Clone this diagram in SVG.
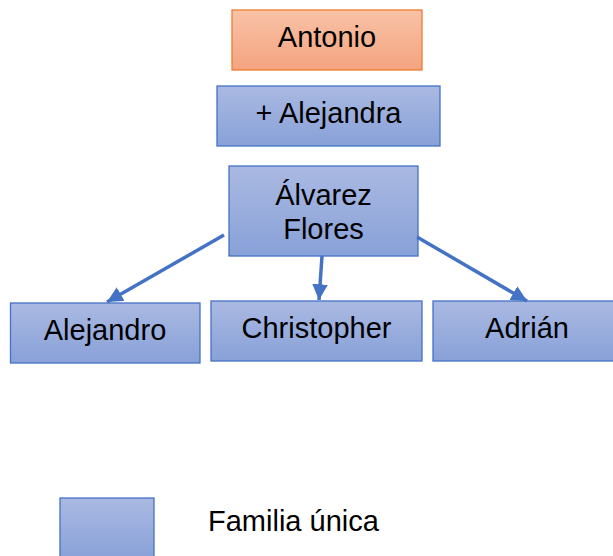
<svg xmlns="http://www.w3.org/2000/svg" width="613" height="556" viewBox="0 0 613 556">
  <defs>
    <linearGradient id="blueFill" x1="0" y1="0" x2="0" y2="1">
      <stop offset="0" stop-color="#aab9e2"/>
      <stop offset="1" stop-color="#88a1d8"/>
    </linearGradient>
    <linearGradient id="orangeFill" x1="0" y1="0" x2="0" y2="1">
      <stop offset="0" stop-color="#f8c2a6"/>
      <stop offset="1" stop-color="#f4a47f"/>
    </linearGradient>
    <marker id="arrow" viewBox="0 0 10 10" refX="10" refY="5" markerWidth="4.5" markerHeight="4.5" orient="auto" markerUnits="strokeWidth">
      <path d="M0,0 L10,5 L0,10 Z" fill="#4472c4"/>
    </marker>
  </defs>
  <style>
    .blue { fill: url(#blueFill); stroke: #4472c4; stroke-width: 1.3; }
    .orange { fill: url(#orangeFill); stroke: #ed7d31; stroke-width: 1.3; }
    .label { font-family: "Liberation Sans", Arial, sans-serif; font-size: 29px; fill: #000; text-anchor: middle; }
    .legend { font-family: "Liberation Sans", Arial, sans-serif; font-size: 29px; fill: #000; }
    .link { stroke: #4472c4; stroke-width: 3.5; fill: none; marker-end: url(#arrow); }
  </style>

  <g id="antonio">
    <rect class="orange" x="232" y="10" width="190" height="60"/>
    <text class="label" x="327" y="47">Antonio</text>
  </g>

  <g id="alejandra">
    <rect class="blue" x="217" y="86" width="223" height="60"/>
    <text class="label" x="328.5" y="123">+ Alejandra</text>
  </g>

  <g id="alvarez-flores">
    <rect class="blue" x="229" y="166" width="189" height="90"/>
    <text class="label" x="323.5" y="205">Álvarez</text>
    <text class="label" x="323.5" y="239">Flores</text>
  </g>

  <g id="alejandro">
    <rect class="blue" x="10.5" y="303" width="189.5" height="60"/>
    <text class="label" x="105" y="340">Alejandro</text>
  </g>

  <g id="christopher">
    <rect class="blue" x="211" y="301" width="211" height="60"/>
    <text class="label" x="316.5" y="338">Christopher</text>
  </g>

  <g id="adrian">
    <rect class="blue" x="433" y="301" width="188" height="60"/>
    <text class="label" x="527" y="338">Adrián</text>
  </g>

  <g id="connectors">
    <line class="link" x1="224" y1="235" x2="107" y2="302"/>
    <line class="link" x1="322" y1="256" x2="319" y2="300"/>
    <line class="link" x1="417" y1="237" x2="527" y2="301"/>
  </g>

  <g id="legend">
    <rect class="blue" x="60" y="498" width="94" height="62"/>
    <text class="legend" x="208" y="531">Familia única</text>
  </g>
</svg>
